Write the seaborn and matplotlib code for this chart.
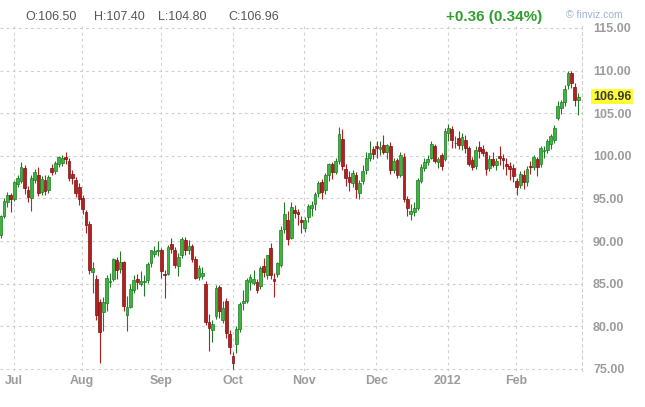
import numpy as np
import pandas as pd
import matplotlib
matplotlib.use("Agg")
import matplotlib.pyplot as plt
import matplotlib.transforms as mtransforms
import seaborn as sns

# daily candles, Jun 28 2011 - Feb 29 2012 (one value per trading day)
opens = [
    90.70, 92.95, 94.60,  # Jun
    95.40, 94.95, 96.70, 97.00, 98.60, 96.00, 95.00, 97.20, 97.80, 95.80,
    97.20, 96.00, 98.60, 98.20, 99.10, 99.20, 99.90, 99.40, 97.90, 97.20,  # Jul
    96.30, 95.10, 93.40, 92.00, 86.40, 85.50, 82.80, 81.70, 82.70, 85.20,
    85.60, 87.80, 86.70, 87.50, 81.30, 82.30, 84.30, 85.50, 85.00, 85.20,
    85.40, 87.40, 88.50,  # Aug
    88.80, 88.90, 86.20, 86.20, 89.70, 88.90, 87.10, 88.40, 90.10, 88.90,
    89.40, 87.90, 85.80, 85.90, 85.00, 80.50, 79.60, 81.20, 84.60, 80.80,
    83.00,  # Sep
    79.10, 76.50, 77.90, 79.70, 82.70, 83.00, 85.20, 85.10, 85.20, 84.70,
    87.10, 86.00, 89.20, 85.60, 86.10, 87.20, 91.40, 92.50, 90.40, 93.70,
    93.40,  # Oct
    92.50, 91.50, 92.80, 93.90, 94.30, 95.70, 96.90, 96.00, 97.70, 99.00,
    98.10, 99.40, 102.00, 98.50, 97.50, 96.80, 97.80, 95.60, 97.00, 98.30,
    99.80,  # Nov
    100.80, 101.10, 100.80, 101.30, 100.40, 101.20, 98.40, 99.50, 97.70, 99.90,
    94.90, 93.20, 93.40, 93.90, 97.00, 98.60, 99.30, 99.80, 101.20, 99.30,
    100.10,  # Dec
    99.60, 102.70, 103.20, 101.50, 102.10, 101.30, 101.90, 100.90, 99.50, 98.80,
    101.00, 100.80, 100.40, 98.60, 99.60, 98.90, 100.00, 99.80, 99.10, 98.80,  # Jan
    98.60, 97.00, 96.60, 97.80, 96.90, 98.80, 98.70, 99.60, 99.00, 100.60,
    100.70, 101.40, 101.90, 104.40, 105.60, 106.30, 108.30, 109.70, 108.10, 106.50,  # Feb
]
highs = [
    93.10, 95.00, 95.80,
    95.60, 97.10, 97.70, 99.30, 98.90, 96.50, 97.80, 98.50, 98.70, 97.60,
    97.70, 97.80, 99.00, 99.40, 100.00, 100.10, 100.40, 99.70, 98.40, 97.50,
    96.80, 95.40, 93.70, 92.40, 87.60, 86.00, 83.20, 83.50, 86.00, 86.30,
    88.00, 88.10, 88.80, 87.70, 83.60, 85.00, 86.00, 86.10, 86.50, 86.00,
    87.50, 89.00, 89.40,
    90.00, 89.20, 86.60, 89.60, 90.40, 89.30, 88.60, 90.50, 90.50, 90.10,
    89.70, 88.20, 87.20, 87.00, 85.30, 81.50, 80.80, 84.90, 84.90, 83.00,
    83.30,
    79.60, 77.00, 80.00, 82.80, 84.30, 85.70, 86.20, 86.60, 85.50, 87.10,
    88.00, 88.40, 89.80, 86.30, 87.60, 91.80, 94.60, 93.50, 94.60, 94.20,
    93.80,
    93.00, 92.80, 94.30, 94.70, 95.80, 97.00, 97.30, 98.00, 99.20, 99.30,
    99.70, 103.37, 103.20, 99.10, 98.20, 98.40, 98.10, 97.20, 98.90, 100.40,
    101.80,
    101.20, 101.70, 101.80, 102.40, 101.40, 101.60, 99.70, 99.80, 100.40, 100.30,
    95.30, 94.40, 94.60, 97.40, 99.00, 99.70, 100.10, 101.80, 101.40, 99.90,
    100.30,
    103.30, 103.74, 103.50, 102.30, 102.90, 102.70, 102.40, 101.20, 99.90, 101.10,
    101.70, 101.30, 100.60, 100.10, 100.40, 99.80, 101.10, 100.20, 99.80, 99.30,
    99.10, 97.40, 98.20, 98.30, 98.80, 99.40, 100.10, 99.90, 101.20, 101.10,
    102.00, 102.60, 103.60, 106.40, 106.50, 108.30, 109.95, 109.90, 108.50, 107.40,
]
lows = [
    90.40, 92.70, 94.00,
    93.40, 94.70, 96.30, 96.80, 95.50, 94.60, 93.50, 96.80, 95.30, 95.40,
    95.40, 95.70, 97.70, 97.90, 98.70, 98.80, 99.10, 97.00, 96.70, 95.20,
    94.20, 93.20, 91.00, 86.10, 83.90, 80.80, 75.70, 79.40, 81.80, 84.60,
    85.30, 85.60, 86.30, 81.80, 79.40, 82.10, 83.90, 84.40, 84.70, 83.60,
    85.10, 87.00, 88.10,
    88.20, 85.70, 83.30, 86.00, 88.60, 86.90, 85.90, 88.00, 88.40, 88.50,
    87.50, 85.50, 85.40, 85.50, 80.20, 77.10, 78.20, 80.90, 81.00, 80.40,
    78.60,
    76.80, 74.95, 76.90, 79.30, 81.90, 82.70, 84.30, 84.80, 83.90, 84.40,
    85.80, 85.60, 85.60, 83.50, 85.80, 87.00, 91.00, 89.60, 90.20, 92.70,
    91.90,
    91.00, 91.10, 92.30, 92.90, 93.60, 95.20, 94.90, 95.50, 97.10, 97.30,
    97.90, 99.10, 98.40, 96.50, 95.90, 96.40, 95.10, 94.90, 96.70, 97.90,
    99.40,
    99.60, 99.80, 100.10, 100.20, 99.60, 97.90, 98.00, 97.40, 97.50, 94.60,
    93.00, 92.50, 93.00, 93.60, 96.80, 98.20, 98.90, 99.60, 99.20, 98.60,
    98.40,
    99.40, 101.70, 100.90, 100.90, 100.80, 100.70, 100.30, 98.80, 98.30, 98.50,
    99.80, 100.00, 97.80, 98.20, 98.70, 98.40, 98.90, 98.50, 97.70, 97.20,
    96.90, 95.40, 96.20, 96.10, 96.50, 97.90, 98.40, 97.60, 98.70, 99.80,
    100.30, 100.80, 101.50, 104.20, 104.90, 105.80, 107.90, 108.00, 105.90, 104.80,
]
closes = [
    92.89, 94.70, 95.42,
    94.94, 96.89, 97.45, 98.67, 96.20, 95.15, 97.43, 98.05, 95.69, 97.24,
    95.93, 97.50, 98.14, 99.13, 99.87, 99.80, 99.59, 97.40, 97.44, 95.70,
    94.89, 93.79, 91.93, 86.63, 86.88, 81.31, 79.30, 82.89, 85.72, 85.38,
    87.88, 86.65, 87.58, 82.38, 82.26, 84.42, 85.44, 85.16, 85.30, 85.37,
    87.27, 88.90, 88.81,
    88.93, 86.45, 86.02, 89.34, 89.05, 87.24, 88.19, 90.21, 88.91, 89.40,
    87.96, 85.70, 86.89, 86.30, 80.51, 79.85, 80.24, 84.45, 81.80, 82.14,
    79.20,
    77.61, 75.67, 79.68, 82.59, 82.98, 85.41, 85.81, 85.57, 84.23, 86.80,
    86.38, 88.34, 85.97, 85.30, 87.40, 91.27, 93.17, 90.20, 93.96, 93.32,
    93.19,
    92.19, 92.51, 94.07, 94.26, 95.52, 96.80, 95.74, 97.78, 98.99, 98.14,
    99.37, 102.59, 98.82, 97.41, 96.90, 98.01, 96.17, 96.77, 98.21, 99.79,
    100.36,
    100.20, 100.96, 101.00, 100.49, 101.28, 98.34, 99.41, 97.77, 100.14, 94.95,
    93.87, 93.53, 93.88, 97.22, 98.67, 99.30, 99.68, 101.34, 99.36, 99.65,
    98.83,
    102.96, 103.22, 101.81, 101.56, 101.31, 102.24, 100.87, 99.10, 98.70, 100.71,
    100.59, 100.39, 98.46, 99.58, 98.95, 99.40, 99.70, 99.56, 98.78, 98.48,
    97.61, 96.36, 97.84, 96.91, 98.41, 98.70, 99.84, 98.67, 100.91, 100.74,
    101.80, 102.31, 103.24, 105.84, 106.28, 107.83, 109.77, 108.56, 106.60, 106.96,
]
holidays = ["2011-07-04", "2011-09-05", "2011-11-24", "2011-12-26",
            "2012-01-02", "2012-01-16", "2012-02-20"]
month_labels = ["Jul", "Aug", "Sep", "Oct", "Nov", "Dec", "2012", "Feb"]
price_ticks = [75, 80, 85, 90, 95, 100, 105, 110, 115]

dates = pd.bdate_range("2011-06-28", "2012-02-29")
dates = dates[~dates.isin(pd.to_datetime(holidays))]

df = pd.DataFrame({"date": dates, "open": opens, "high": highs,
                   "low": lows, "close": closes})
df["x"] = np.arange(len(df))
df["up"] = df["close"] >= df["open"]

# first trading day of each month (Jul onwards) -> grid position
first_days = df.groupby(df["date"].dt.to_period("M"))["x"].min().values[1:]

sns.set_theme(style="white")
plt.rcParams["font.family"] = ["Liberation Sans", "DejaVu Sans"]

GREEN_FILL, GREEN_EDGE = "#3db53d", "#207a26"
RED_FILL, RED_EDGE = "#b51f1f", "#7a1212"
GRID = "#cfcfcf"

fig = plt.figure(figsize=(6.45, 4.07), dpi=100)
ax = fig.add_axes([0, 0.0892, 0.9023, 0.8462])

# wicks
ax.vlines(df["x"], df["low"], df["high"],
          colors=np.where(df["up"], GREEN_EDGE, RED_FILL), linewidth=0.8, zorder=2)
# bodies
body = (df["close"] - df["open"]).abs().clip(lower=0.06)
ax.bar(df["x"], body, bottom=df[["open", "close"]].min(axis=1), width=0.82,
       color=np.where(df["up"], GREEN_FILL, RED_FILL),
       edgecolor=np.where(df["up"], GREEN_EDGE, RED_EDGE), linewidth=0.5, zorder=3)

ax.set_xlim(-0.17, 170.1)
ax.set_ylim(74.8, 115.2)

ax.set_xticks(first_days + 0.9)
ax.set_xticklabels(month_labels)
ax.set_yticks(price_ticks)
ax.set_yticklabels([f"{v:.2f}" for v in price_ticks])
ax.yaxis.tick_right()
ax.tick_params(axis="y", length=0, pad=8, labelsize=9, labelcolor="#9c9c9c")
ax.tick_params(axis="x", length=0, pad=3, labelsize=9, labelcolor="#9c9c9c")
for lbl in ax.get_xticklabels() + ax.get_yticklabels():
    lbl.set_fontweight("bold")

ax.set_axisbelow(True)
ax.grid(True, color=GRID, linestyle=(0, (2.5, 3)), linewidth=0.8)
for side in ["top", "left", "bottom"]:
    ax.spines[side].set_visible(False)
ax.spines["right"].set_color(GRID)
ax.spines["right"].set_linestyle((0, (2.5, 3)))
ax.spines["right"].set_linewidth(0.8)

# last price marker
last = df.iloc[-1]
prev_close = df["close"].iloc[-2]
trans = mtransforms.blended_transform_factory(ax.transAxes, ax.transData)
ax.annotate(f"{last['close']:.2f}", xy=(1.0, last["close"]), xycoords=trans,
            xytext=(8, 0), textcoords="offset points", ha="left", va="center",
            fontsize=9, fontweight="bold", color="#3a3a3a", annotation_clip=False,
            bbox=dict(boxstyle="square,pad=0.15", fc="#ffff33", ec="none"))

# header
hdr_y = 1 - 17 / 407
for xpix, key, val in [(25, "O", last["open"]), (94, "H", last["high"]),
                       (158, "L", last["low"]), (228, "C", last["close"])]:
    fig.text(xpix / 645, hdr_y, f"{key}:{val:.2f}", fontsize=9,
             color="#555555", va="center")
chg = last["close"] - prev_close
fig.text(446 / 645, hdr_y, f"{chg:+.2f} ({chg / prev_close * 100:.2f}%)",
         fontsize=11, fontweight="bold", color="#2f9e2f", va="center")
fig.text(566 / 645, 1 - 15 / 407, "\u00a9 finviz.com", fontsize=7.5,
         color="#9db3cf", va="center")

fig.savefig("out.png", dpi=100)
